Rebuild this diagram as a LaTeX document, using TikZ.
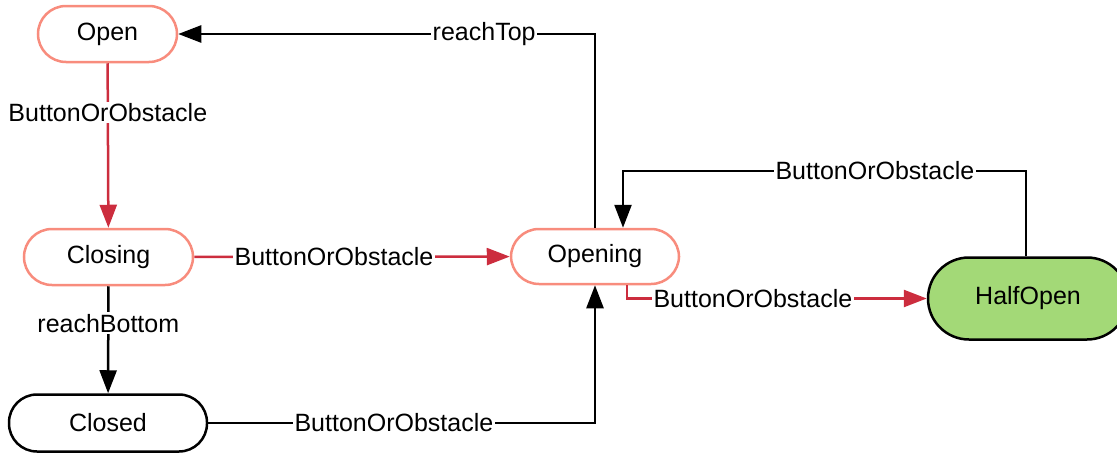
\documentclass[tikz,border=0pt]{standalone}
\usepackage{fontspec}
\setmainfont{Liberation Sans}
\usetikzlibrary{arrows.meta}
\definecolor{salmon}{RGB}{248,140,125}
\definecolor{edgered}{RGB}{204,45,62}
\definecolor{halfgreen}{RGB}{163,217,119}
\tikzset{
  state/.style={draw=salmon, line width=2.5pt, rectangle, rounded corners=28pt, minimum height=56pt, fill=white, font=\fontsize{25}{28}\selectfont},
  blkstate/.style={state, draw=black},
  greenstate/.style={draw=black, line width=2.5pt, rectangle, rounded corners=41pt, minimum height=82pt, minimum width=200pt, fill=halfgreen, font=\fontsize{25}{28}\selectfont},
  redarr/.style={draw=edgered, line width=2.5pt, -{Triangle[length=23pt 0,width=17pt 0]}},
  blkarr/.style={draw=black, line width=2.5pt, -{Triangle[length=23pt 0,width=17pt 0]}},
  lbl/.style={fill=white, inner sep=1.5pt, font=\fontsize{25}{28}\selectfont, text=black}
}
\begin{document}
\begin{tikzpicture}[x=1pt,y=-1pt]
\useasboundingbox (0,0) rectangle (1117,455);
\node[state, minimum width=139pt] (open) at (107.5,34) {Open};
\node[state, minimum width=169pt] (closing) at (108.5,257) {Closing};
\node[blkstate, minimum width=198pt, minimum height=57pt] (closed) at (108,423) {Closed};
\node[state, minimum width=168pt, minimum height=55pt] (opening) at (595,256.5) {Opening};
\node[greenstate] (halfopen) at (1028,298.5) {HalfOpen};

\draw[redarr] (open) -- node[lbl,pos=0.3]{ButtonOrObstacle} (closing);
\draw[redarr] (closing) -- node[lbl,pos=0.443]{ButtonOrObstacle} (opening);
\draw[blkarr] (closing) -- node[lbl,pos=0.345]{reachBottom} (closed);
\draw[blkarr] (closed.east) -| node[lbl,pos=0.24]{ButtonOrObstacle} (opening.south);
\draw[blkarr] (opening.north) |- node[lbl,pos=0.633]{reachTop} (open.east);
\draw[blkarr] ([xshift=-2pt]halfopen.north) |- node[lbl,pos=0.6875]{ButtonOrObstacle} ([shift={(28pt,57pt)}]opening.north) -- ([xshift=28pt]opening.north);
\draw[redarr] ([xshift=32pt]opening.south) |- node[lbl,pos=0.71]{ButtonOrObstacle} (halfopen.west);
\end{tikzpicture}
\end{document}
